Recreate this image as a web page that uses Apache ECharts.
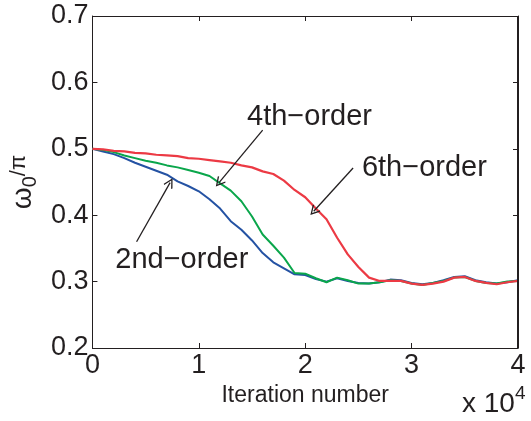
<!DOCTYPE html>
<html>
<head>
<meta charset="utf-8">
<script src="https://cdn.jsdelivr.net/npm/echarts@6/dist/echarts.min.js"></script>
<style>
  html, body { margin: 0; padding: 0; background: #fff; }
  #chart { width: 531px; height: 421px; }
</style>
</head>
<body>
<div id="chart"></div>
<script>
// iteration number, in units of 1e4
const iters = [0, 0.1, 0.2, 0.3, 0.4, 0.5, 0.6, 0.7, 0.8, 0.9, 1.0, 1.1, 1.2, 1.3, 1.4, 1.5, 1.6, 1.7, 1.8, 1.9, 2.0,
  2.1, 2.2, 2.3, 2.4, 2.5, 2.6, 2.7, 2.8, 2.9, 3.0, 3.1, 3.2, 3.3, 3.4, 3.5, 3.6, 3.7, 3.8, 3.9, 4.0];

const order2 = [0.500, 0.496, 0.492, 0.486, 0.479, 0.473, 0.467, 0.461, 0.451, 0.444, 0.436, 0.424, 0.410, 0.391, 0.378,
  0.362, 0.343, 0.329, 0.320, 0.311, 0.310, 0.304, 0.300, 0.305, 0.301, 0.298, 0.297, 0.299, 0.303, 0.302, 0.298,
  0.296, 0.298, 0.302, 0.307, 0.308, 0.302, 0.299, 0.297, 0.299, 0.302];

const order4 = [0.500, 0.498, 0.495, 0.490, 0.486, 0.482, 0.479, 0.475, 0.472, 0.468, 0.464, 0.459, 0.448, 0.437, 0.421,
  0.398, 0.371, 0.354, 0.336, 0.313, 0.312, 0.305, 0.299, 0.306, 0.302, 0.297, 0.297, 0.299, 0.302, 0.301, 0.297,
  0.295, 0.298, 0.301, 0.306, 0.307, 0.301, 0.298, 0.297, 0.300, 0.301];

const order6 = [0.500, 0.499, 0.497, 0.496, 0.494, 0.493, 0.491, 0.490, 0.489, 0.486, 0.485, 0.483, 0.481, 0.479, 0.475,
  0.472, 0.466, 0.462, 0.452, 0.438, 0.427, 0.410, 0.394, 0.366, 0.341, 0.322, 0.306, 0.301, 0.301, 0.301, 0.297,
  0.295, 0.297, 0.300, 0.306, 0.307, 0.301, 0.298, 0.296, 0.299, 0.301];

const xTicks = [0, 1, 2, 3, 4];
const yTicks = [0.2, 0.3, 0.4, 0.5, 0.6, 0.7];

// annotation labels and arrows (data coordinates)
const labelText = ['4th\u2212order', '6th\u2212order', '2nd\u2212order'];
const labelX = [2.04, 3.12, 0.84];
const labelY = [0.548, 0.471, 0.333];
const arrowFrom = [[1.60, 0.528], [2.45, 0.471], [0.415, 0.360]];
const arrowTo = [[1.19, 0.449], [2.08, 0.406], [0.73, 0.449]];

const FONT = 'Liberation Sans, Arial, sans-serif';
const INK = '#231f20';
// open V arrow head, pointing up
const ARROW = 'path://M5,0 L10,9 L9,10 L5,2.6 L1,10 L0,9 Z';

const toPairs = (ys) => iters.map((x, i) => [x, ys[i]]);

// fresh objects for every axis, never shared
function boxAxis(extra) {
  return Object.assign({
    axisLine: { show: true, onZero: false, lineStyle: { color: INK, width: 1 } },
    axisTick: { show: true, inside: true, length: 5, lineStyle: { color: INK, width: 1 } },
    splitLine: { show: false }
  }, extra);
}

const chart = echarts.init(document.getElementById('chart'), null, { renderer: 'canvas' });

chart.setOption({
  animation: false,
  grid: { left: 91, right: 13, top: 16, bottom: 73 },
  xAxis: [
    boxAxis({
      type: 'value', min: 0, max: 4, interval: 1, position: 'bottom',
      name: 'Iteration number', nameLocation: 'middle', nameGap: 30,
      nameTextStyle: { fontFamily: FONT, fontSize: 23, color: INK },
      axisLabel: { fontFamily: FONT, fontSize: 27, color: INK, margin: 4,
        formatter: (v) => xTicks.includes(v) ? String(v) : '' }
    }),
    boxAxis({
      type: 'value', min: 0, max: 4, interval: 1, position: 'top',
      axisLabel: { show: false }
    })
  ],
  yAxis: [
    boxAxis({
      type: 'value', min: 0.2, max: 0.7, interval: 0.1, position: 'left',
      name: '{w|\u03c9}{s|0}{p|/\u03c0}', nameLocation: 'middle', nameRotate: 90, nameGap: 52,
      nameTextStyle: {
        fontFamily: FONT, color: INK,
        rich: {
          w: { fontFamily: FONT, fontSize: 28, color: INK },
          s: { fontFamily: FONT, fontSize: 20, color: INK, padding: [14, 0, 0, 0] },
          p: { fontFamily: FONT, fontSize: 22, color: INK, padding: [0, 0, 8, 0] }
        }
      },
      axisLabel: { fontFamily: FONT, fontSize: 27, color: INK, margin: 4,
        formatter: (v) => {
          const t = yTicks.find((y) => Math.abs(y - v) < 1e-6);
          return t === undefined ? '' : t.toFixed(1);
        } }
    }),
    boxAxis({
      type: 'value', min: 0.2, max: 0.7, interval: 0.1, position: 'right',
      axisLabel: { show: false }
    })
  ],
  series: [
    { name: '2nd-order', type: 'line', data: toPairs(order2), showSymbol: false,
      lineStyle: { color: '#2452a3', width: 2 }, z: 2 },
    { name: '4th-order', type: 'line', data: toPairs(order4), showSymbol: false,
      lineStyle: { color: '#0aa64b', width: 2 }, z: 3 },
    { name: '6th-order', type: 'line', data: toPairs(order6), showSymbol: false,
      lineStyle: { color: '#ec3a44', width: 2.2 }, z: 4 },
    { type: 'lines', coordinateSystem: 'cartesian2d', z: 5,
      symbol: ['none', ARROW], symbolSize: [9, 10],
      itemStyle: { color: INK },
      lineStyle: { color: INK, width: 1.3, opacity: 1 },
      data: arrowFrom.map((p, i) => ({ coords: [p, arrowTo[i]] })) },
    { type: 'scatter', symbolSize: 0, z: 6,
      itemStyle: { opacity: 1 },
      data: labelText.map((t, i) => ({ value: [labelX[i], labelY[i]], name: t })),
      label: { show: true, position: 'inside', formatter: (p) => p.name,
        fontFamily: FONT, fontSize: 29, color: INK } }
  ]
});

// top/right frame edges again as plain graphics, in case the mirrored axes are hidden
const px = (x, y) => chart.convertToPixel({ gridIndex: 0 }, [x, y]);
const tl = px(0, 0.7), br = px(4, 0.2);
const frame = [
  { type: 'line', shape: { x1: tl[0], y1: tl[1] + 0.5, x2: br[0], y2: tl[1] + 0.5 } },
  { type: 'line', shape: { x1: br[0] - 0.5, y1: tl[1], x2: br[0] - 0.5, y2: br[1] } }
].map((g) => Object.assign(g, { z: 10, silent: true, style: { stroke: INK, lineWidth: 1 } }));

chart.setOption({
  graphic: frame.concat([
    { type: 'text', left: 462, top: 390, style: { text: 'x 10', font: '28px ' + FONT, fill: INK } },
    { type: 'text', left: 515, top: 384, style: { text: '4', font: '19px ' + FONT, fill: INK } }
  ])
});
</script>
</body>
</html>
